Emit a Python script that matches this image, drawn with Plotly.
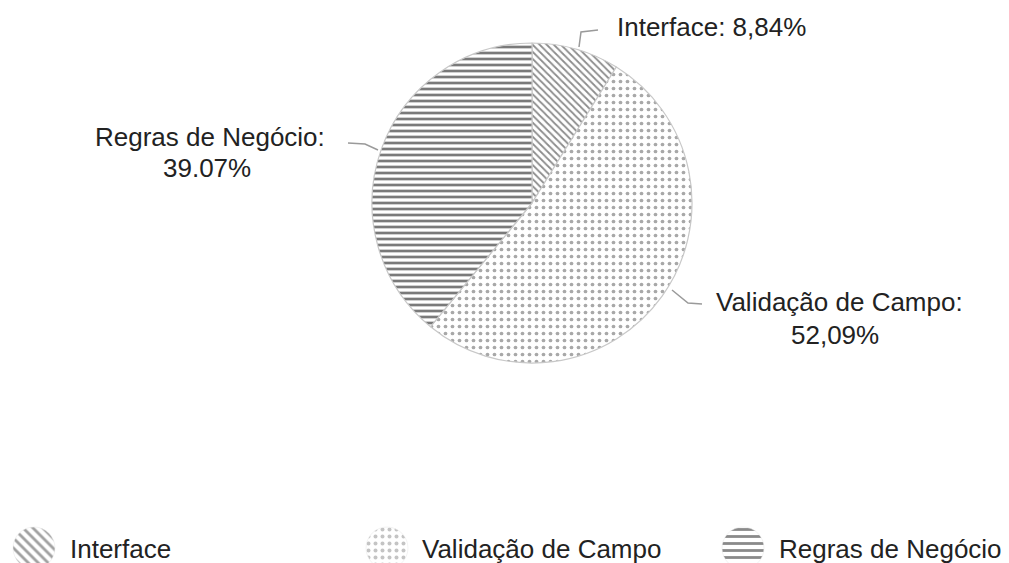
import plotly.graph_objects as go

categories = ["Interface", "Validação de Campo", "Regras de Negócio"]
values = [8.84, 52.09, 39.07]
decimal_seps = [",", ",", "."]

pattern_shapes = ["\\", ".", "-"]
fg_colors = ["#8c8c8c", "#a8a8a8", "#7a7a7a"]

W, H = 1009, 563
OFF = 8  # page body margin offset applied by the browser
cx, cy, r = 532, 203, 160  # pie position in reference (page) pixels

# legend swatch centres / text positions (page pixels)
legend_swatch_x = [34, 387, 743]
legend_text_x = [68, 420, 777]
legend_y = 548
swatch_r = 21


def px(x):
    return (x - OFF) / W


def py(y):
    return 1 - (y - OFF) / H


fig = go.Figure()
fig.add_trace(go.Pie(
    labels=categories,
    values=values,
    sort=False,
    direction="clockwise",
    rotation=0,
    textinfo="none",
    hoverinfo="label+percent",
    showlegend=False,
    marker=dict(
        colors=["#ffffff"] * 3,
        line=dict(color="#c8c8c8", width=1.2),
        pattern=dict(
            shape=pattern_shapes,
            fgcolor=fg_colors,
            bgcolor="#ffffff",
            size=[5, 7, 6],
            solidity=[0.35, 0.22, 0.45],
        ),
    ),
    domain=dict(x=[px(cx - r), px(cx + r)], y=[py(cy + r), py(cy - r)]),
))

# legend: one round patterned swatch per category + its name
legend_fg = ["#a0a0a0", "#c4c4c4", "#8a8a8a"]
for i, cat in enumerate(categories):
    sx = legend_swatch_x[i]
    fig.add_trace(go.Pie(
        labels=[cat],
        values=[1],
        sort=False,
        textinfo="none",
        hoverinfo="label",
        showlegend=False,
        marker=dict(
            colors=["#ffffff"],
            line=dict(color="#e6e6e6", width=0.5),
            pattern=dict(shape=pattern_shapes[i], fgcolor=legend_fg[i], bgcolor="#ffffff",
                         size=[7], solidity=[0.4 if i != 1 else 0.25]),
        ),
        domain=dict(x=[px(sx - swatch_r), px(sx + swatch_r)],
                    y=[py(legend_y + swatch_r), py(legend_y - swatch_r)]),
    ))

pct_txt = [f"{v:.2f}".replace(".", s) + "%" for v, s in zip(values, decimal_seps)]

font = dict(family="Arial, Liberation Sans, sans-serif", size=26, color="#222222")


def note(x, y, text, anchor):
    fig.add_annotation(x=px(x), y=py(y), xref="paper", yref="paper", text=text,
                       showarrow=False, xanchor=anchor, yanchor="middle", font=font)


# Interface label (single line)
note(615, 27, f"{categories[0]}: {pct_txt[0]}", "left")
# Validacao label (two lines)
note(839, 302, f"{categories[1]}:", "center")
note(835, 335, pct_txt[1], "center")
# Regras label (two lines)
note(210, 137, f"{categories[2]}:", "center")
note(207, 168, pct_txt[2], "center")

# legend texts
for i, cat in enumerate(categories):
    note(legend_text_x[i], legend_y + 1, cat, "left")

line_style = dict(color="#9a9a9a", width=1.5)


def path(points):
    return "M " + " L ".join(f"{px(x)},{py(y)}" for x, y in points)


fig.add_shape(type="path", xref="paper", yref="paper", path=path([(579, 47), (581, 32), (598, 30)]), line=line_style)
fig.add_shape(type="path", xref="paper", yref="paper", path=path([(378, 150), (365, 144), (348, 143)]), line=line_style)
fig.add_shape(type="path", xref="paper", yref="paper", path=path([(672, 290), (688, 303), (702, 304)]), line=line_style)

fig.update_layout(
    width=W, height=H,
    margin=dict(l=0, r=0, t=0, b=0, autoexpand=False),
    paper_bgcolor="#ffffff",
    plot_bgcolor="#ffffff",
    showlegend=False,
)

fig.write_html("out.html")
